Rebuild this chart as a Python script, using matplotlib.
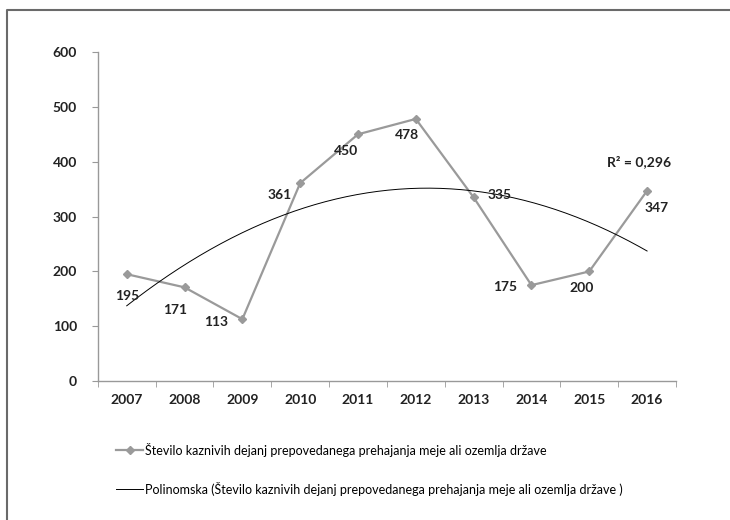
import numpy as np
import matplotlib.pyplot as plt
from matplotlib.lines import Line2D

years = ['2007', '2008', '2009', '2010', '2011', '2012', '2013', '2014', '2015', '2016']
cases = [195, 171, 113, 361, 450, 478, 335, 175, 200, 347]
series_name = 'Število kaznivih dejanj prepovedanega prehajanja meje ali ozemlja države'
trend_name = 'Polinomska (Število kaznivih dejanj prepovedanega prehajanja meje ali ozemlja države )'
r2_text = 'R² = 0,296'

# label offsets in pixels (dx, dy) for each data label
label_offsets = [(0, -22), (-9, -23), (-26, -3), (-21, -12), (-12, -17),
                 (-9, -16), (26, 2), (-26, -2), (-8, -17), (10, -17)]

plt.rcParams['font.family'] = ['Lato', 'DejaVu Sans']

fig = plt.figure(figsize=(7.3, 5.2), dpi=100)
ax = fig.add_axes([0.134, 0.267, 0.792, 0.633])

x = np.arange(len(years))
ax.plot(x, cases, color='#9a9a9a', lw=1.6, marker='D', ms=4.5,
        mfc='#9a9a9a', mec='#9a9a9a', label=series_name)

# 2nd order polynomial trendline
coef = np.polyfit(x, cases, 2)
xs = np.linspace(0, len(years) - 1, 200)
ax.plot(xs, np.polyval(coef, xs), color='black', lw=0.7, label=trend_name)

for i, v in enumerate(cases):
    dx, dy = label_offsets[i]
    ax.annotate(str(v), (i, v), xytext=(dx, dy), textcoords='offset pixels',
                ha='center', va='center', fontsize=10, fontweight='bold',
                color='#222222')

ax.text(8.87, 401, r2_text, ha='center', va='center', fontsize=10,
        fontweight='bold', color='#222222')

ax.set_xlim(-0.5, len(years) - 0.5)
ax.set_ylim(0, 600)
ax.set_yticks(range(0, 601, 100))
ax.set_xticks(x)
ax.set_xticklabels(years)
ax.set_xticks(np.arange(-0.5, len(years), 1), minor=True)
ax.tick_params(axis='x', which='major', length=0, pad=9)
ax.tick_params(axis='x', which='minor', length=4, color='#999999')
ax.tick_params(axis='y', length=4, color='#999999', pad=11)
for lab in ax.get_xticklabels() + ax.get_yticklabels():
    lab.set_fontsize(10)
    lab.set_fontweight('bold')
    lab.set_color('#222222')

for s in ['top', 'right']:
    ax.spines[s].set_visible(False)
for s in ['left', 'bottom']:
    ax.spines[s].set_color('#999999')
    ax.spines[s].set_linewidth(1)

handles, labels = ax.get_legend_handles_labels()
fig.legend(handles, labels, loc='upper left', bbox_to_anchor=(0.152, 0.158),
           frameon=False, fontsize=9, handlelength=2.2, handletextpad=0.1,
           labelspacing=2.0, borderaxespad=0)

# outer frame (top and left edges)
fy = 1 - 10 / 520
fx = 7 / 730
fig.add_artist(Line2D([fx, fx, 1], [0, fy, fy], transform=fig.transFigure,
                      color='#6a6a6a', lw=1.5))

fig.savefig('out.png', dpi=100)
